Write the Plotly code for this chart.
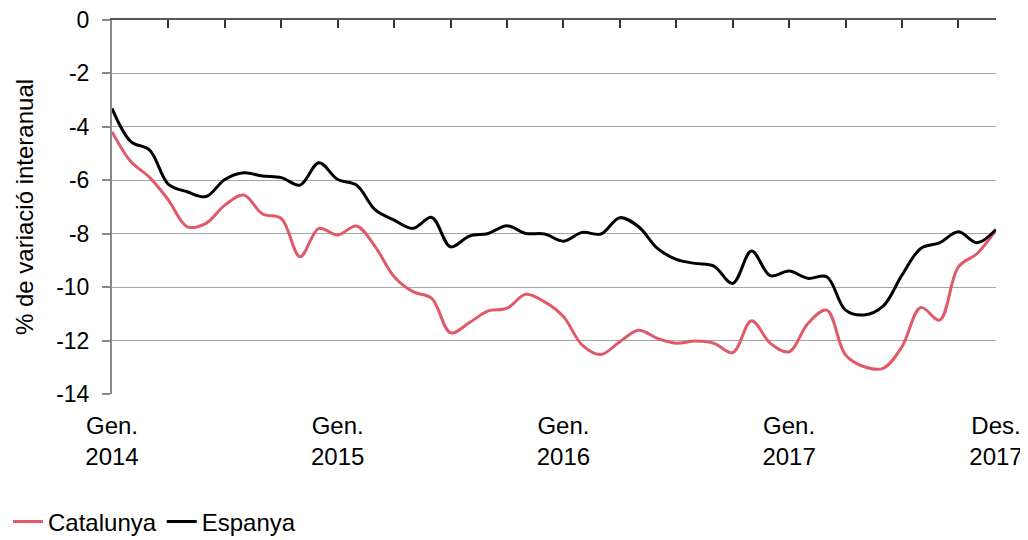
import plotly.graph_objects as go
import numpy as np

# Monthly data, Jan 2014 - Dec 2017 (48 months)
months = [f"{y}-{m:02d}" for y in range(2014, 2018) for m in range(1, 13)]

catalunya = [
    -4.18, -5.30, -5.89, -6.74, -7.74, -7.61, -6.93, -6.55, -7.26, -7.43, -8.86, -7.80,
    -8.05, -7.71, -8.49, -9.61, -10.17, -10.42, -11.71, -11.33, -10.89, -10.79, -10.27, -10.55,
    -11.10, -12.17, -12.52, -12.04, -11.61, -11.92, -12.10, -12.02, -12.10, -12.45, -11.26, -12.10,
    -12.42, -11.36, -10.86, -12.54, -12.98, -13.04, -12.23, -10.76, -11.23, -9.24, -8.74, -7.86,
]
espanya = [
    -3.31, -4.55, -4.87, -6.15, -6.43, -6.61, -5.97, -5.72, -5.84, -5.90, -6.18, -5.34,
    -5.97, -6.18, -7.11, -7.49, -7.80, -7.39, -8.49, -8.09, -7.99, -7.70, -7.99, -8.01,
    -8.28, -7.95, -8.01, -7.40, -7.74, -8.55, -8.96, -9.11, -9.21, -9.86, -8.65, -9.57,
    -9.40, -9.67, -9.61, -10.86, -11.04, -10.71, -9.55, -8.55, -8.34, -7.93, -8.34, -7.84,
]

label_pos = [0, 12, 24, 36, 47]
label_text = ["Gen.<br>2014", "Gen.<br>2015", "Gen.<br>2016", "Gen.<br>2017", "Des.<br>2017"]
quarter_ticks = list(range(0, 48, 3))
y_ticks = [0, -2, -4, -6, -8, -10, -12, -14]

x = np.arange(len(months))
font_family = "Liberation Sans, Arial, sans-serif"

fig = go.Figure()

fig.add_trace(go.Scatter(
    x=x, y=catalunya, name="Catalunya", mode="lines",
    line=dict(color="#E05A6A", width=3, shape="spline", smoothing=1),
))
fig.add_trace(go.Scatter(
    x=x, y=espanya, name="Espanya", mode="lines",
    line=dict(color="#000000", width=3, shape="spline", smoothing=1),
))
# invisible trace for the top axis (tick marks only)
fig.add_trace(go.Scatter(
    x=x, y=espanya, xaxis="x2", mode="lines", showlegend=False,
    line=dict(width=0), hoverinfo="skip", opacity=0,
))

# page body has an 8px margin, so the figure starts at (8, 8)
fig.update_layout(
    width=1020, height=532,
    margin=dict(l=104, r=32, t=12, b=146),
    plot_bgcolor="white", paper_bgcolor="white",
    font=dict(family=font_family, size=24, color="#000000"),
    showlegend=True,
    xaxis=dict(
        range=[0, 47], tickvals=label_pos, ticktext=label_text,
        showgrid=False, zeroline=False, showline=False, ticks="",
        tickfont=dict(size=24), ticklabelstandoff=15, ticklabeloverflow="allow",
        automargin=False,
    ),
    xaxis2=dict(
        range=[0, 47], overlaying="x", side="top", anchor="y",
        tickvals=quarter_ticks, showticklabels=False,
        ticks="inside", ticklen=8, tickcolor="#333333", tickwidth=1.5,
        showline=True, linecolor="#555555", linewidth=1.5,
        showgrid=False, zeroline=False, automargin=False,
    ),
    yaxis=dict(
        range=[-14, 0], tickvals=y_ticks, ticktext=[str(v) for v in y_ticks],
        title=dict(text="% de variació interanual", font=dict(size=24), standoff=16),
        showgrid=True, gridcolor="#A6A6A6", gridwidth=1,
        zeroline=False, showline=True, linecolor="#888888", linewidth=2,
        ticks="outside", ticklen=8, tickcolor="#888888", tickwidth=1.5,
        ticklabelstandoff=8, tickfont=dict(size=23), ticklabeloverflow="allow",
        automargin=False,
    ),
    legend=dict(
        orientation="h", xref="container", yref="container",
        x=0.0, y=0.034, xanchor="left", yanchor="middle",
        font=dict(size=24), itemwidth=30, tracegroupgap=0,
        bgcolor="rgba(0,0,0,0)",
    ),
)

fig.write_html("out.html")
